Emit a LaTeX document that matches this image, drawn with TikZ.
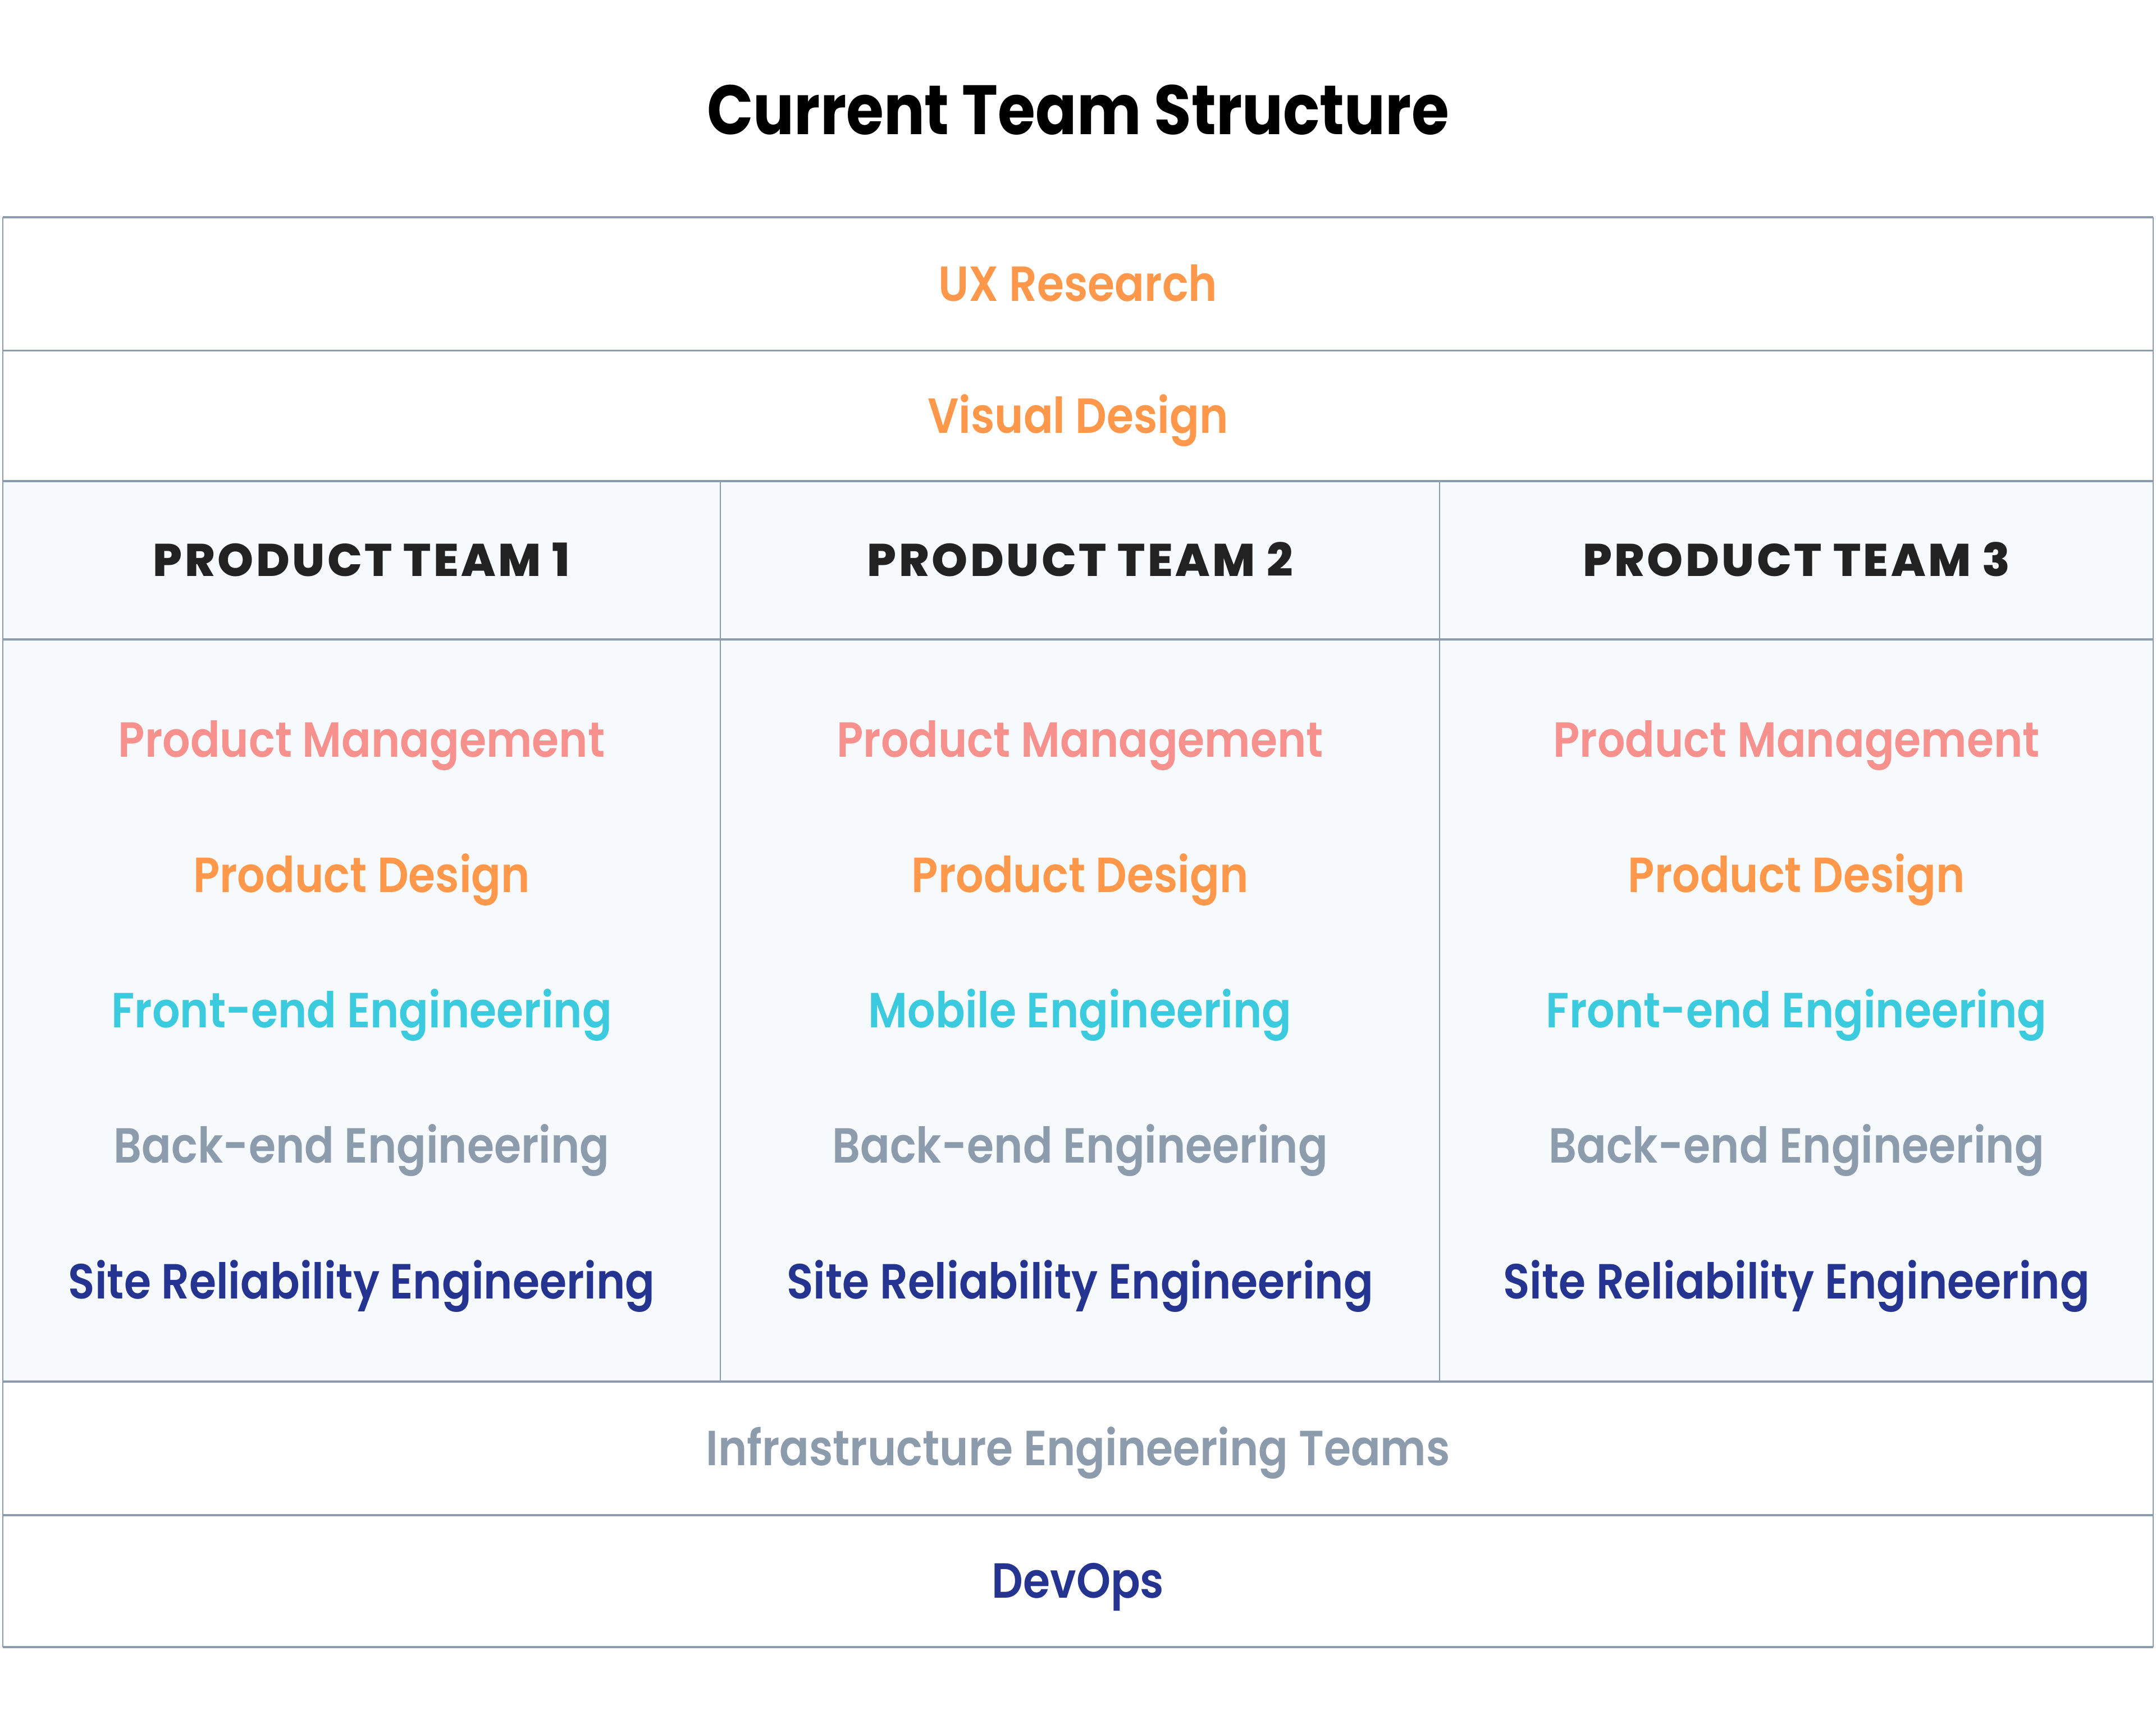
\documentclass[tikz,border=0pt]{standalone}
\usepackage{fontspec}
\setmainfont{Poppins}
\newfontfamily\itemfont{Poppins SemiBold}[FakeStretch=0.885]
\newfontfamily\headfont{Poppins ExtraBold}[LetterSpace=5.5]
\newfontfamily\titlefont{Poppins Bold}[FakeStretch=0.87]
\definecolor{rulegray}{HTML}{8C9BAD}
\definecolor{areafill}{HTML}{F7FAFD}
\definecolor{pmpink}{HTML}{F7918E}
\definecolor{designorange}{HTML}{FF984A}
\definecolor{engcyan}{HTML}{3CCBDE}
\definecolor{backgray}{HTML}{8C9CAD}
\definecolor{srenavy}{HTML}{253490}
\definecolor{headblack}{HTML}{222222}
\tikzset{
  item/.style={font=\itemfont\fontsize{25}{25}\selectfont, text height=17.4pt, text depth=0pt, inner sep=0pt},
  head/.style={font=\headfont\fontsize{23.2}{23.2}\selectfont, text=headblack, text height=16.2pt, text depth=0pt, inner sep=0pt},
  rule/.style={draw=rulegray, line width=1pt},
  thinrule/.style={draw=rulegray, line width=0.6pt}
}
\begin{document}
\begin{tikzpicture}[x=0.02449cm, y=-0.02449cm]
\useasboundingbox (0,0) rectangle (1568,1260.5);
% title
\node[font=\titlefont\fontsize{35.4}{35.4}\selectfont, text height=24.7pt, text depth=0pt, inner sep=0pt] (title) at (784,80) {Current Team Structure};
% product area
\fill[areafill] (2,350) rectangle (1566,1005);
\foreach \y in {158,255,350,465,1005,1102,1198}
  \draw[rule] (2,\y) -- (1566,\y);
\draw[thinrule] (2,158) -- (2,1198);
\draw[thinrule] (1566,158) -- (1566,1198);
\foreach \x in {524,1047}
  \draw[thinrule] (\x,350) -- (\x,1005);
% shared rows
\node[item, text=designorange] (ux) at (784,206.5) {UX Research};
\node[item, text=designorange] (visual) at (784,302.5) {Visual Design};
\node[item, text=backgray] (infra) at (784,1053.5) {Infrastructure Engineering Teams};
\node[item, text=srenavy] (devops) at (784,1150) {DevOps};
% product teams
\foreach \c/\x/\eng in {1/263/Front-end Engineering, 2/785.5/Mobile Engineering, 3/1306.5/Front-end Engineering}{
  \node[head] (team\c) at (\x,407.5) {PRODUCT TEAM \c};
  \node[item, text=pmpink] (pm\c) at (\x,538) {Product Management};
  \node[item, text=designorange] (pd\c) at (\x,636.5) {Product Design};
  \node[item, text=engcyan] (eng\c) at (\x,735) {\eng};
  \node[item, text=backgray] (be\c) at (\x,833.5) {Back-end Engineering};
  \node[item, text=srenavy] (sre\c) at (\x,932) {Site Reliability Engineering};
}
\end{tikzpicture}
\end{document}
